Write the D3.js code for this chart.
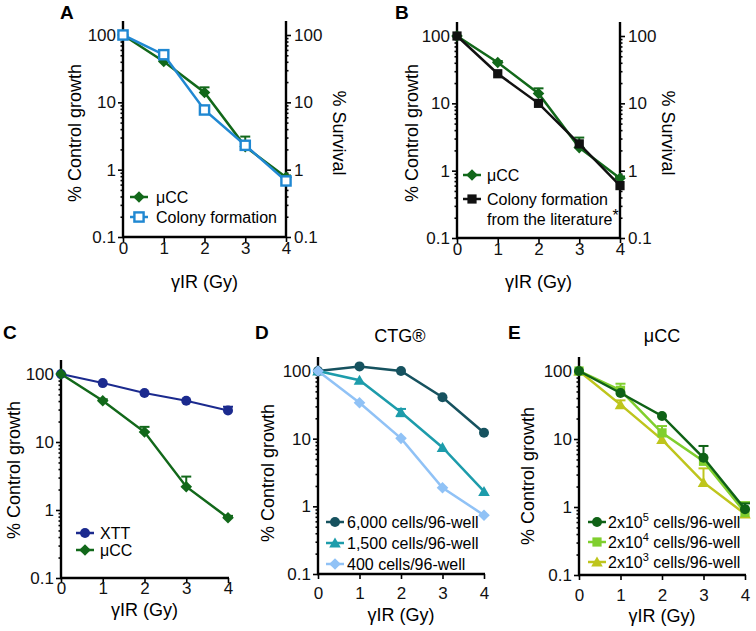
<!DOCTYPE html>
<html><head><meta charset="utf-8">
<script src="https://cdn.jsdelivr.net/npm/d3@7"></script>
<style>body{margin:0;background:#fff}svg{display:block}text{font-family:"Liberation Sans",Arial,sans-serif}</style>
</head><body><svg id="c" width="756" height="631"></svg>
<script>
// ---- data ----
const doses = [0, 1, 2, 3, 4];
const yTicks = [0.1, 1, 10, 100];
const minorTicks = [0.2,0.3,0.4,0.5,0.6,0.7,0.8,0.9,2,3,4,5,6,7,8,9,20,30,40,50,60,70,80,90];
const uccVals = [100, 40.5, 14, 2.2, 0.77];
const uccErr = [0, 2, 2.7, 0.9, 0.05];
const colonyVals = [100, 51, 7.7, 2.3, 0.68];
const colonyLitVals = [100, 27.5, 10, 2.5, 0.6];
const xttVals = [100, 73.5, 52.5, 40.5, 29];
const xttErr = [0, 0, 0, 0, 4];
const ctg6000 = [100, 117, 100, 41, 12.2];
const ctg1500 = [100, 73, 24.5, 7.4, 1.66];
const ctg1500Err = [0, 0, 3, 0, 0];
const ctg400 = [100, 34, 10.1, 1.88, 0.74];
const ucc2e5 = [100, 47.5, 21.8, 5.3, 0.93];
const ucc2e5Err = [0, 0, 0, 2.6, 0.2];
const ucc2e4 = [100, 52, 12.3, 4.7, 0.83];
const ucc2e4Err = [0, 13, 3.2, 0, 0.35];
const ucc2e3 = [100, 32, 9.8, 2.3, 0.79];
const ucc2e3Err = [0, 5, 0, 1.4, 0];

const C = {ucc:"#12681a", colony:"#2088d2", lit:"#111111", xtt:"#1b2a8e",
  c6000:"#16525f", c1500:"#1d9cab", c400:"#90c2f6", e5:"#0f6216", e4:"#80cf2e", e3:"#bec51c"};

const svg = d3.select("#c");
const FONT = '"Liberation Sans",Arial,sans-serif';

function marker(g, shape, color, cx, cy, open) {
  let el;
  if (shape === "circle") el = g.append("circle").attr("cx", cx).attr("cy", cy).attr("r", 5);
  else if (shape === "diamond") el = g.append("path").attr("d", `M${cx},${cy-5.8}L${cx+5.8},${cy}L${cx},${cy+5.8}L${cx-5.8},${cy}Z`);
  else if (shape === "square") el = g.append("rect").attr("x", cx-4.6).attr("y", cy-4.6).attr("width", 9.2).attr("height", 9.2);
  else if (shape === "triangle") el = g.append("path").attr("d", `M${cx},${cy-5.5}L${cx+5.8},${cy+4.5}L${cx-5.8},${cy+4.5}Z`);
  if (open) el.attr("fill", "#fff").attr("stroke", color).attr("stroke-width", 2.4);
  else el.attr("fill", color);
}

function panel(p) {
  const g = svg.append("g");
  const x = d3.scaleLinear().domain([0, 4]).range([p.x0, p.x4]);
  const y = d3.scaleLog().domain([0.1, 100]).range([p.y01, p.y100]);
  const fmt = d => d < 1 ? "0.1" : String(d);

  // y axis left
  const ya = g.append("g").attr("transform", `translate(${p.x0},0)`);
  ya.call(d3.axisLeft(y).tickValues(yTicks).tickFormat(fmt).tickSize(5).tickPadding(2));
  ya.append("g").call(d3.axisLeft(y).tickValues(minorTicks).tickFormat("").tickSize(2.5));
  ya.selectAll(".domain").remove();
  ya.append("line").attr("x1", 0).attr("x2", 0).attr("y1", p.top).attr("y2", p.y01 + 1).attr("stroke", "#000").attr("stroke-width", 2.4);
  if (p.right) {
    const yr = g.append("g").attr("transform", `translate(${p.x4},0)`);
    yr.call(d3.axisRight(y).tickValues(yTicks).tickFormat(fmt).tickSize(5).tickPadding(3));
    yr.append("g").call(d3.axisRight(y).tickValues(minorTicks).tickFormat("").tickSize(2.5));
    yr.selectAll(".domain").remove();
    yr.append("line").attr("x1", 0).attr("x2", 0).attr("y1", p.top).attr("y2", p.y01 + 1).attr("stroke", "#000").attr("stroke-width", 2.4);
    g.append("text").attr("transform", `translate(${p.rtitleX},${p.ytitleY}) rotate(90)`)
      .attr("text-anchor", "middle").attr("font-size", 18).text("% Survival");
  }
  // x axis
  const xa = g.append("g").attr("transform", `translate(0,${p.y01})`);
  xa.call(d3.axisBottom(x).tickValues(doses).tickFormat(d3.format("d")).tickSize(5).tickPadding(p.xpad));
  xa.selectAll(".domain").remove();
  xa.append("line").attr("x1", p.x0 - 1).attr("x2", p.x4 + 1).attr("y1", 0).attr("y2", 0).attr("stroke", "#000").attr("stroke-width", 2.4);

  g.selectAll(".tick line").attr("stroke", "#000").attr("stroke-width", 1.6);
  g.selectAll(".tick text").attr("font-size", 17).attr("font-family", FONT).attr("fill", "#111");

  g.append("text").attr("x", (p.x0 + p.x4) / 2).attr("y", p.xtitleY).attr("text-anchor", "middle")
    .attr("font-size", 18).text("γIR (Gy)");
  g.append("text").attr("transform", `translate(${p.ytitleX},${p.ytitleY}) rotate(-90)`)
    .attr("text-anchor", "middle").attr("font-size", 18).text("% Control growth");
  g.append("text").attr("x", p.labelX).attr("y", p.labelY).attr("font-size", 19).attr("font-weight", "bold").text(p.label);
  if (p.title) g.append("text").attr("x", p.titleX).attr("y", p.labelY + 3).attr("text-anchor", "middle").attr("font-size", 18).text(p.title);

  const line = d3.line().x((d, i) => x(doses[i])).y(d => y(d));
  p.series.forEach(s => {
    const sg = g.append("g");
    if (s.err) s.err.forEach((e, i) => {
      if (!e) return;
      const cx = x(doses[i]), v = s.vals[i];
      sg.append("line").attr("x1", cx).attr("x2", cx).attr("y1", y(v)).attr("y2", y(v + e)).attr("stroke", s.color).attr("stroke-width", 2);
      sg.append("line").attr("x1", cx - 5).attr("x2", cx + 5).attr("y1", y(v + e)).attr("y2", y(v + e)).attr("stroke", s.color).attr("stroke-width", 2);
      if (s.both) {
        sg.append("line").attr("x1", cx).attr("x2", cx).attr("y1", y(v)).attr("y2", y(v - e)).attr("stroke", s.color).attr("stroke-width", 2);
        sg.append("line").attr("x1", cx - 5).attr("x2", cx + 5).attr("y1", y(v - e)).attr("y2", y(v - e)).attr("stroke", s.color).attr("stroke-width", 2);
      }
    });
    sg.append("path").datum(s.vals).attr("d", line).attr("fill", "none").attr("stroke", s.color).attr("stroke-width", s.lw || 2.5);
    s.vals.forEach((v, i) => marker(sg, s.shape, s.color, x(doses[i]), y(v), s.open));
  });

  // legend
  const L = p.legend;
  p.series.forEach((s, i) => {
    const ly = L.y + L.rows[i];
    g.append("line").attr("x1", L.x - 9).attr("x2", L.x + 9).attr("y1", ly).attr("y2", ly).attr("stroke", s.color).attr("stroke-width", 2.5);
    marker(g, s.shape, s.color, L.x, ly, s.open);
    const t = g.append("text").attr("x", L.tx).attr("y", ly + 5.5).attr("font-size", 16);
    s.label(t);
  });
}

const plain = str => t => t.text(str);
const sup = (a, b, c) => t => { t.append("tspan").text(a); t.append("tspan").attr("font-size", 11).attr("dy", -7).text(b); t.append("tspan").attr("dy", 7).text(c); };

panel({label:"A", labelX:60, labelY:19, x0:123, x4:286, y100:35, y01:237, top:21, xpad:0,
  right:true, rtitleX:333, ytitleX:81, ytitleY:133, xtitleY:288,
  series:[
    {vals:colonyVals, color:C.colony, shape:"square", open:true, label:plain("Colony formation")},
    {vals:uccVals, err:uccErr, color:C.ucc, shape:"diamond", label:plain("μCC")}
  ].reverse(),
  legend:{x:139, y:197, rows:[0, 20], tx:156}});

panel({label:"B", labelX:395, labelY:19, x0:457, x4:620, y100:36, y01:238, top:22, xpad:0,
  right:true, rtitleX:662, ytitleX:418, ytitleY:133, xtitleY:288,
  series:[
    {vals:uccVals, err:uccErr, color:C.ucc, shape:"diamond", label:plain("μCC")},
    {vals:colonyLitVals, color:C.lit, shape:"square", label:t => {
      t.append("tspan").text("Colony formation");
      t.append("tspan").attr("x", 487).attr("dy", 20).text("from the literature");
      t.append("tspan").attr("dy", -4).attr("font-size", 16).text("*");
    }}
  ],
  legend:{x:472, y:175, rows:[0, 24], tx:487}});

panel({label:"C", labelX:3, labelY:339, x0:61, x4:228, y100:374, y01:578, top:360, xpad:-1,
  ytitleX:20, ytitleY:470, xtitleY:616,
  series:[
    {vals:uccVals, err:uccErr, color:C.ucc, shape:"diamond", label:plain("μCC")},
    {vals:xttVals, err:xttErr, color:C.xtt, shape:"circle", lw:2, label:plain("XTT")}
  ].reverse(),
  legend:{x:85, y:533, rows:[0, 17], tx:100}});

panel({label:"D", labelX:255, labelY:339, x0:318, x4:484, y100:371, y01:574, top:357, xpad:8,
  ytitleX:274, ytitleY:473, xtitleY:621, title:"CTG®", titleX:400,
  series:[
    {vals:ctg6000, color:C.c6000, shape:"circle", label:plain("6,000 cells/96-well")},
    {vals:ctg1500, err:ctg1500Err, both:true, color:C.c1500, shape:"triangle", label:plain("1,500 cells/96-well")},
    {vals:ctg400, color:C.c400, shape:"diamond", label:plain("400 cells/96-well")}
  ],
  legend:{x:335, y:522, rows:[0, 21, 42], tx:347}});

panel({label:"E", labelX:508, labelY:339, x0:579, x4:745, y100:371, y01:575, top:357, xpad:9,
  ytitleX:534, ytitleY:476, xtitleY:622, title:"μCC", titleX:662,
  series:[
    {vals:ucc2e3, err:ucc2e3Err, color:C.e3, shape:"triangle", label:sup("2x10","3"," cells/96-well")},
    {vals:ucc2e4, err:ucc2e4Err, color:C.e4, shape:"square", label:sup("2x10","4"," cells/96-well")},
    {vals:ucc2e5, err:ucc2e5Err, color:C.e5, shape:"circle", label:sup("2x10","5"," cells/96-well")}
  ],
  legend:{x:597, y:562, rows:[0, -20, -40], tx:608}});
</script>
</body></html>
